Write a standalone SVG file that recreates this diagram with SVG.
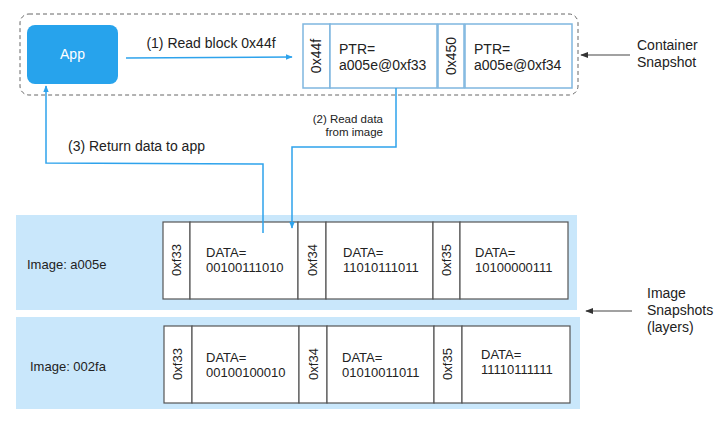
<svg xmlns="http://www.w3.org/2000/svg" width="726" height="428" viewBox="0 0 726 428">
<style>
text{font-family:"Liberation Sans",Arial,sans-serif;fill:#222;}
.t13{font-size:13px;}
.t14{font-size:14px;}
.t11{font-size:11.5px;}
.blue{fill:#fff;stroke:#7fb6df;stroke-width:1.5;}
.gray{fill:#fff;stroke:#555;stroke-width:1.2;}
.band{fill:#c9e7fb;}
.conn{fill:none;stroke:#2ea3ec;stroke-width:1.5;}
</style>
<defs>
<marker id="ab" viewBox="0 0 10 10" refX="9" refY="5" markerWidth="7" markerHeight="7" orient="auto-start-reverse" markerUnits="userSpaceOnUse"><path d="M0,1 L10,5 L0,9 Z" fill="#2ea3ec"/></marker>
<marker id="ag" viewBox="0 0 10 10" refX="9" refY="5" markerWidth="8" markerHeight="8" orient="auto" markerUnits="userSpaceOnUse"><path d="M0,1 L10,5 L0,9 Z" fill="#333"/></marker>
</defs>

<g id="container-snapshot">
<rect x="20" y="14" width="558" height="81" rx="9" fill="none" stroke="#666" stroke-dasharray="4 3" stroke-width="1"/>
</g>

<g id="app">
<rect x="27" y="25" width="91" height="59" rx="8" fill="#27a3ec"/>
<text class="t14" x="72.5" y="59" text-anchor="middle" style="fill:#fff">App</text>
</g>

<g id="block-0x44f">
<rect class="blue" x="303" y="24" width="27" height="64"/>
<text class="t14" transform="translate(321,56) rotate(-90)" text-anchor="middle">0x44f</text>
<rect class="blue" x="330" y="24" width="107" height="64"/>
<text class="t14" x="339" y="54">PTR=</text>
<text class="t14" x="339" y="70">a005e@0xf33</text>
</g>
<g id="block-0x450">
<rect class="blue" x="438" y="24" width="26" height="64"/>
<text class="t14" transform="translate(456,56) rotate(-90)" text-anchor="middle">0x450</text>
<rect class="blue" x="465" y="24" width="107" height="64"/>
<text class="t14" x="474" y="54">PTR=</text>
<text class="t14" x="474" y="70">a005e@0xf34</text>
</g>

<g id="label-container">
<text class="t14" x="637" y="50">Container</text>
<text class="t14" x="637" y="67">Snapshot</text>
</g>

<g id="image-a005e">
<rect class="band" x="16" y="215" width="561" height="95"/>
<text class="t13" x="27" y="269">Image: a005e</text>
<rect class="gray" x="163" y="222" width="27" height="77"/>
<text class="t13" transform="translate(181,260) rotate(-90)" text-anchor="middle">0xf33</text>
<rect class="gray" x="190" y="222" width="108" height="77"/>
<text class="t13" x="206" y="257">DATA=</text>
<text class="t13" x="206" y="272">00100111010</text>
<rect class="gray" x="298" y="222" width="28" height="77"/>
<text class="t13" transform="translate(317,260) rotate(-90)" text-anchor="middle">0xf34</text>
<rect class="gray" x="326" y="222" width="107" height="77"/>
<text class="t13" x="343" y="257">DATA=</text>
<text class="t13" x="343" y="272">11010111011</text>
<rect class="gray" x="433" y="222" width="27" height="77"/>
<text class="t13" transform="translate(451,260) rotate(-90)" text-anchor="middle">0xf35</text>
<rect class="gray" x="460" y="222" width="108" height="77"/>
<text class="t13" x="475" y="257">DATA=</text>
<text class="t13" x="475" y="272">10100000111</text>
</g>

<g id="image-002fa">
<rect class="band" x="16" y="317" width="564" height="92"/>
<text class="t13" x="30" y="371">Image: 002fa</text>
<rect class="gray" x="164" y="326" width="28" height="77"/>
<text class="t13" transform="translate(182,364) rotate(-90)" text-anchor="middle">0xf33</text>
<rect class="gray" x="192" y="326" width="107" height="77"/>
<text class="t13" x="206" y="362">DATA=</text>
<text class="t13" x="206" y="377">00100100010</text>
<rect class="gray" x="299" y="326" width="28" height="77"/>
<text class="t13" transform="translate(318,364) rotate(-90)" text-anchor="middle">0xf34</text>
<rect class="gray" x="327" y="326" width="107" height="77"/>
<text class="t13" x="342" y="362">DATA=</text>
<text class="t13" x="342" y="377">01010011011</text>
<rect class="gray" x="434" y="326" width="28" height="77"/>
<text class="t13" transform="translate(452,364) rotate(-90)" text-anchor="middle">0xf35</text>
<rect class="gray" x="462" y="326" width="108" height="77"/>
<text class="t13" x="481" y="359">DATA=</text>
<text class="t13" x="481" y="374">11110111111</text>
</g>

<g id="label-images">
<text class="t14" x="647" y="298">Image</text>
<text class="t14" x="647" y="315">Snapshots</text>
<text class="t14" x="647" y="332">(layers)</text>
</g>

<g id="connectors">
<path class="conn" d="M126,58 L292,57" marker-end="url(#ab)"/>
<text class="t14" x="211" y="48" text-anchor="middle">(1) Read block 0x44f</text>
<path class="conn" d="M396,88 L396,147 L292,147 L292,228" marker-end="url(#ab)"/>
<text class="t11" x="383" y="123" text-anchor="end">(2) Read data</text>
<text class="t11" x="383" y="136" text-anchor="end">from image</text>
<path class="conn" d="M263,233 L263,164 L46,163 L46,86" marker-end="url(#ab)"/>
<text class="t14" x="68" y="151">(3) Return data to app</text>
<path d="M630,55 L581,55" fill="none" stroke="#444" stroke-width="1.2" marker-end="url(#ag)"/>
<path d="M632,311 L586,311" fill="none" stroke="#444" stroke-width="1.2" marker-end="url(#ag)"/>
</g>
</svg>
